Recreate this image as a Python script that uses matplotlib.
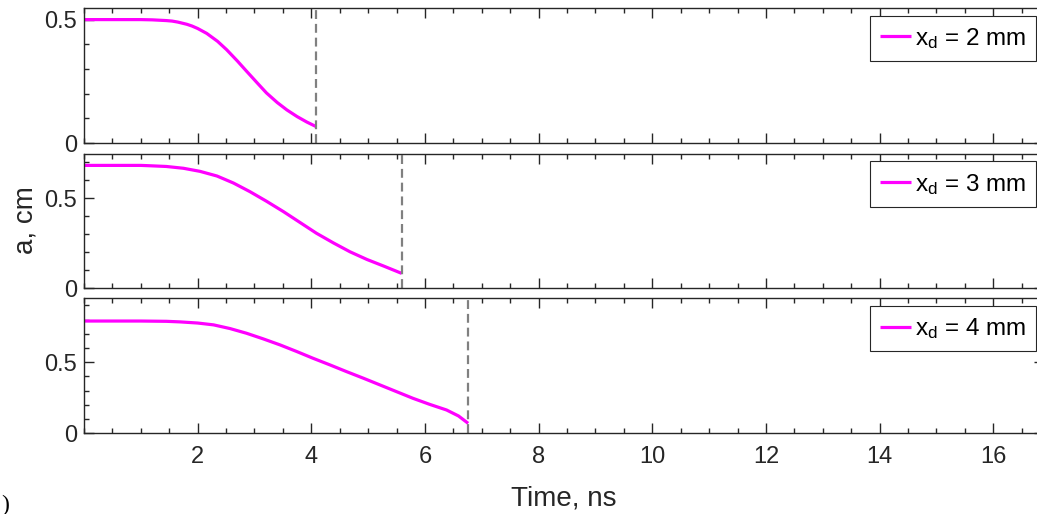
import matplotlib
matplotlib.use("Agg")
import matplotlib.pyplot as plt
from matplotlib.ticker import MultipleLocator, FixedLocator

plt.rcParams['font.family'] = ['Liberation Sans', 'DejaVu Sans']
plt.rcParams['mathtext.fontset'] = 'custom'
plt.rcParams['mathtext.rm'] = 'Liberation Sans'
plt.rcParams['mathtext.it'] = 'Liberation Sans:italic'

# ---- data ----
t_2mm = [0.0, 0.5, 1.0, 1.2, 1.45, 1.55, 1.65, 1.81, 1.9, 2.0, 2.16, 2.35, 2.51, 2.7,
         2.86, 3.05, 3.21, 3.4, 3.57, 3.75, 3.92, 4.08]
a_2mm = [0.50, 0.50, 0.50, 0.499, 0.496, 0.494, 0.49, 0.481, 0.474, 0.464, 0.444, 0.412,
         0.378, 0.332, 0.291, 0.243, 0.203, 0.164, 0.134, 0.107, 0.085, 0.067]

t_3mm = [0.0, 0.5, 1.0, 1.16, 1.45, 1.75, 2.04, 2.34, 2.63, 2.92, 3.21, 3.51, 3.80,
         4.09, 4.39, 4.68, 4.98, 5.27, 5.59]
a_3mm = [0.683, 0.683, 0.683, 0.681, 0.677, 0.667, 0.650, 0.624, 0.585, 0.537, 0.484,
         0.426, 0.366, 0.306, 0.252, 0.203, 0.160, 0.124, 0.083]

t_4mm = [0.0, 0.5, 1.0, 1.45, 1.69, 2.0, 2.28, 2.57, 2.86, 3.15, 3.45, 3.74, 4.03,
         4.33, 4.62, 4.92, 5.21, 5.50, 5.79, 6.08, 6.38, 6.59, 6.76]
a_4mm = [0.79, 0.79, 0.79, 0.788, 0.784, 0.776, 0.763, 0.737, 0.704, 0.665, 0.622,
         0.576, 0.528, 0.481, 0.434, 0.387, 0.340, 0.293, 0.246, 0.204, 0.164, 0.122, 0.070]

t_end = [4.09, 5.60, 6.76]
labels = [r'x$_{\mathrm{d}}$ = 2 mm', r'x$_{\mathrm{d}}$ = 3 mm', r'x$_{\mathrm{d}}$ = 4 mm']
ylims = [(0, 0.547), (0, 0.748), (0, 0.95)]
xticks = [2, 4, 6, 8, 10, 12, 14, 16]
yticks = [0, 0.5]

series = [(t_2mm, a_2mm), (t_3mm, a_3mm), (t_4mm, a_4mm)]

fig = plt.figure(figsize=(10.37, 5.14), dpi=100)
left = 84 / 1037
right_px = 1044
width = (right_px - 84) / 1037
xmax = (right_px - 84) / 56.83
tops = [8, 153.7, 298.3]
bots = [143, 288.3, 433.3]
TC = '#262626'

axes = []
for i in range(3):
    ax = fig.add_axes([left, (514 - bots[i]) / 514, width, (bots[i] - tops[i]) / 514])
    axes.append(ax)
    t, a = series[i]
    ax.plot(t, a, color='#FF00FF', lw=2.3, label=labels[i], solid_capstyle='butt')
    ax.axvline(t_end[i], color='#808080', lw=1.6, ls=(0, (4, 2.2)))
    ax.set_xlim(0, xmax)
    ax.set_ylim(*ylims[i])
    ax.xaxis.set_major_locator(FixedLocator(xticks))
    ax.xaxis.set_minor_locator(MultipleLocator(0.5))
    ax.yaxis.set_major_locator(FixedLocator(yticks))
    ax.yaxis.set_minor_locator(MultipleLocator(0.1))
    ax.tick_params(which='both', direction='in', top=True, right=True,
                   width=1.0, color=TC, labelsize=17, labelcolor=TC)
    ax.tick_params(which='major', length=7)
    ax.tick_params(which='minor', length=3.5)
    ax.tick_params(axis='x', pad=9)
    ax.tick_params(axis='y', pad=5)
    ax.set_yticklabels(['0', '0.5'])
    for s in ax.spines.values():
        s.set_color(TC)
        s.set_linewidth(1.0)
    if i < 2:
        ax.tick_params(labelbottom=False)
    else:
        ax.set_xticklabels([str(v) for v in xticks])
    leg = ax.legend(loc='upper right', fontsize=17.5, handlelength=1.3, handletextpad=0.15,
                    borderpad=0.42, borderaxespad=0.32, fancybox=False, framealpha=1,
                    edgecolor=TC)
    leg.get_frame().set_linewidth(0.8)

axes[2].set_xlabel('Time, ns', fontsize=20, color=TC, labelpad=13)
fig.text(26 / 1037, 1 - 220 / 514, 'a, cm', rotation=90, fontsize=20, color=TC,
         ha='center', va='center')
fig.text(1 / 1037, 1 - 505 / 514, ')', fontsize=17, family='Liberation Serif',
         ha='left', va='center')

fig.savefig('out.png', dpi=100)
